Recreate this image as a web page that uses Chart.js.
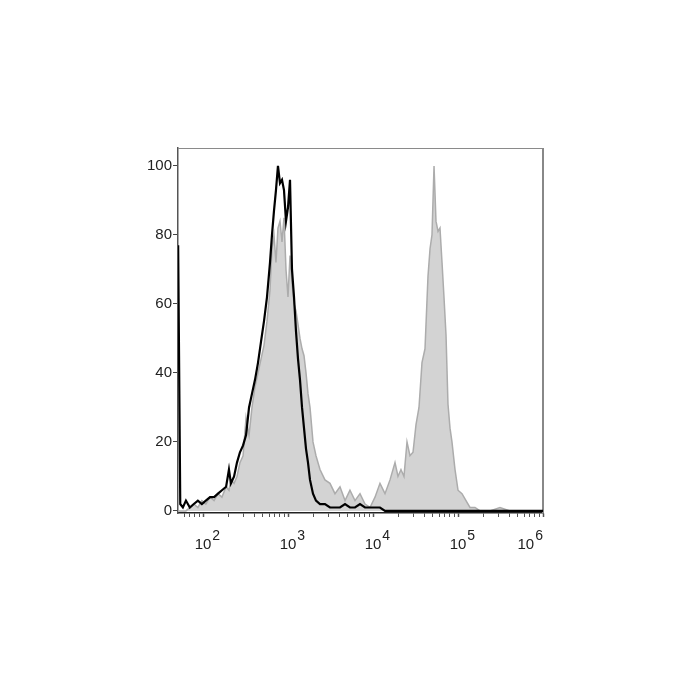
<!DOCTYPE html>
<html>
<head>
<meta charset="utf-8">
<script src="https://cdn.jsdelivr.net/npm/chart.js@4/dist/chart.umd.min.js"></script>
<style>
  html, body { margin: 0; padding: 0; background: #ffffff; }
  #wrap { width: 700px; height: 700px; position: relative; }
</style>
</head>
<body>
<div id="wrap"><canvas id="c" width="700" height="700"></canvas></div>
<script>
// Fluorescence intensity (bin positions, log axis)
const intensity = [
  51, 54, 58, 63, 70, 78, 87, 97, 108, 121,
  135, 150, 167, 187, 202, 213, 232, 251, 272, 296,
  321, 348, 377, 409, 444, 481, 522, 566, 614, 648,
  684, 722, 762, 805, 850, 897, 947, 1000, 1056, 1114,
  1177, 1242, 1312, 1384, 1462, 1543, 1629, 1719, 1815, 1968,
  2134, 2379, 2722, 3118, 3571, 4089, 4686, 5358, 6140, 7031,
  8054, 9225, 10560, 12080, 13840, 15850, 18150, 19680, 21340, 23150,
  25120, 27230, 29560, 32060, 34760, 37700, 40900, 44360, 46880, 49430,
  52240, 55080, 58210, 61380, 64860, 68390, 72280, 76210, 80540, 84920,
  92250, 100000, 111400, 124200, 138400, 158500, 181500, 237700, 311900, 409000,
  1000000
];
// Isotype control (% of max) – black line
const controlCounts = [
  77, 2, 1, 3, 1, 2, 3, 2, 3, 4,
  4, 5, 6, 7, 12, 8, 10, 14, 17, 19,
  22, 30, 34, 38, 43, 49, 55, 62, 72, 80,
  87, 93, 100, 95, 96, 93, 84, 88, 96, 70,
  62, 52, 44, 38, 30, 24, 18, 14, 9, 5,
  3, 2, 2, 1, 1, 1, 2, 1, 1, 2,
  1, 1, 1, 1, 0, 0, 0, 0, 0, 0,
  0, 0, 0, 0, 0, 0, 0, 0, 0, 0,
  0, 0, 0, 0, 0, 0, 0, 0, 0, 0,
  0, 0, 0, 0, 0, 0, 0, 0, 0, 0,
  0
];
// Stained sample (% of max) – gray filled
const sampleCounts = [
  0, 0, 0, 0, 1, 2, 1, 3, 2, 4,
  3, 5, 4, 7, 6, 9, 8, 10, 14, 16,
  27, 22, 30, 36, 40, 44, 48, 55, 64, 76,
  80, 72, 82, 84, 78, 85, 70, 62, 74, 66,
  60, 58, 54, 50, 47, 45, 40, 34, 30, 20,
  16, 12, 9, 8, 5, 7, 3, 6, 3, 5,
  2, 1, 4, 8, 5, 9, 14, 10, 12, 10,
  20, 16, 17, 25, 30, 43, 47, 68, 76, 80,
  100, 84, 81, 82, 72, 62, 51, 31, 24, 20,
  12, 6, 5, 3, 1, 1, 0, 0, 1, 0,
  0
];
const yTickValues = [0, 20, 40, 60, 80, 100];
const xMajorTicks = [100, 1000, 10000, 100000, 1000000];
const xTickBase = ['10', '10', '10', '10', '10'];
const xTickExponents = ['2', '3', '4', '5', '6'];

const controlData = intensity.map((x, i) => ({ x: x, y: controlCounts[i] }));
const sampleData = intensity.map((x, i) => ({ x: x, y: sampleCounts[i] }));

const FONT = '"Liberation Sans", Arial, "DejaVu Sans", sans-serif';

const framePlugin = {
  id: 'frame',
  beforeDatasetsDraw(chart) {
    const a = chart.chartArea, ctx = chart.ctx;
    ctx.save();
    ctx.strokeStyle = '#8a8a8a';
    ctx.lineWidth = 1;
    ctx.beginPath();
    ctx.moveTo(a.left, a.top + 0.5);
    ctx.lineTo(a.right, a.top + 0.5);
    ctx.stroke();
    ctx.lineWidth = 2;
    ctx.strokeStyle = '#888888';
    ctx.beginPath();
    ctx.moveTo(a.right, a.top);
    ctx.lineTo(a.right, a.bottom);
    ctx.stroke();
    ctx.restore();
  }
};

const xLabelPlugin = {
  id: 'xlabels',
  afterDraw(chart) {
    const xs = chart.scales.x, a = chart.chartArea, ctx = chart.ctx;
    ctx.save();
    ctx.fillStyle = '#222222';
    ctx.textBaseline = 'alphabetic';
    ctx.textAlign = 'left';
    xMajorTicks.forEach((v, i) => {
      const px = xs.getPixelForValue(v);
      ctx.font = '15px ' + FONT;
      const w1 = ctx.measureText(xTickBase[i]).width;
      ctx.font = '14px ' + FONT;
      const w2 = ctx.measureText(xTickExponents[i]).width;
      let left = px - w1 / 2;
      if (left + w1 + 1 + w2 > a.right) left = a.right - (w1 + 1 + w2);
      ctx.font = '15px ' + FONT;
      ctx.fillText(xTickBase[i], left, 549);
      ctx.font = '14px ' + FONT;
      ctx.fillText(xTickExponents[i], left + w1 + 1, 540);
    });
    ctx.restore();
  }
};

new Chart(document.getElementById('c'), {
  type: 'line',
  data: {
    datasets: [
      {
        label: 'Isotype control',
        data: controlData,
        borderColor: '#000000',
        borderWidth: 2.2,
        pointRadius: 0,
        tension: 0,
        fill: false,
        order: 0
      },
      {
        label: 'Sample',
        data: sampleData,
        borderColor: '#acacac',
        backgroundColor: '#d3d3d3',
        borderWidth: 1.5,
        pointRadius: 0,
        tension: 0,
        fill: 'origin',
        order: 1
      }
    ]
  },
  options: {
    responsive: false,
    animation: false,
    events: [],
    layout: { padding: { left: 0, top: 148, right: 157, bottom: 0 } },
    plugins: {
      legend: { display: false },
      tooltip: { enabled: false },
      title: { display: false }
    },
    scales: {
      x: {
        type: 'logarithmic',
        min: 50.8,
        max: 1000000,
        afterFit(scale) { scale.height = 187; },
        afterBuildTicks(scale) {
          const t = [];
          [10, 100, 1000, 10000, 100000].forEach(d => {
            for (let k = 1; k <= 9; k++) {
              const v = d * k;
              if (v >= 50.8 && v <= 1000000) t.push({ value: v, major: k === 1 });
            }
          });
          t.push({ value: 1000000, major: true });
          scale.ticks = t;
        },
        border: { display: true, color: '#222222', width: 1.5 },
        grid: {
          drawOnChartArea: false,
          drawTicks: true,
          tickLength: 4,
          tickColor: '#555555',
          tickWidth: (ctx) => (ctx.tick && ctx.tick.major ? 1.5 : 1)
        },
        ticks: { display: false, autoSkip: false }
      },
      y: {
        type: 'linear',
        min: -0.6,
        max: 105.2,
        afterFit(scale) { scale.width = 178; },
        afterBuildTicks(scale) {
          scale.ticks = yTickValues.map(v => ({ value: v }));
        },
        border: { display: true, color: '#555555', width: 1.5 },
        grid: {
          drawOnChartArea: false,
          drawTicks: true,
          tickLength: 5,
          tickColor: '#444444',
          tickWidth: 1
        },
        ticks: {
          padding: 1,
          color: '#222222',
          font: { family: FONT, size: 15 },
          callback: (v) => String(v)
        }
      }
    }
  },
  plugins: [framePlugin, xLabelPlugin]
});
</script>
</body>
</html>
